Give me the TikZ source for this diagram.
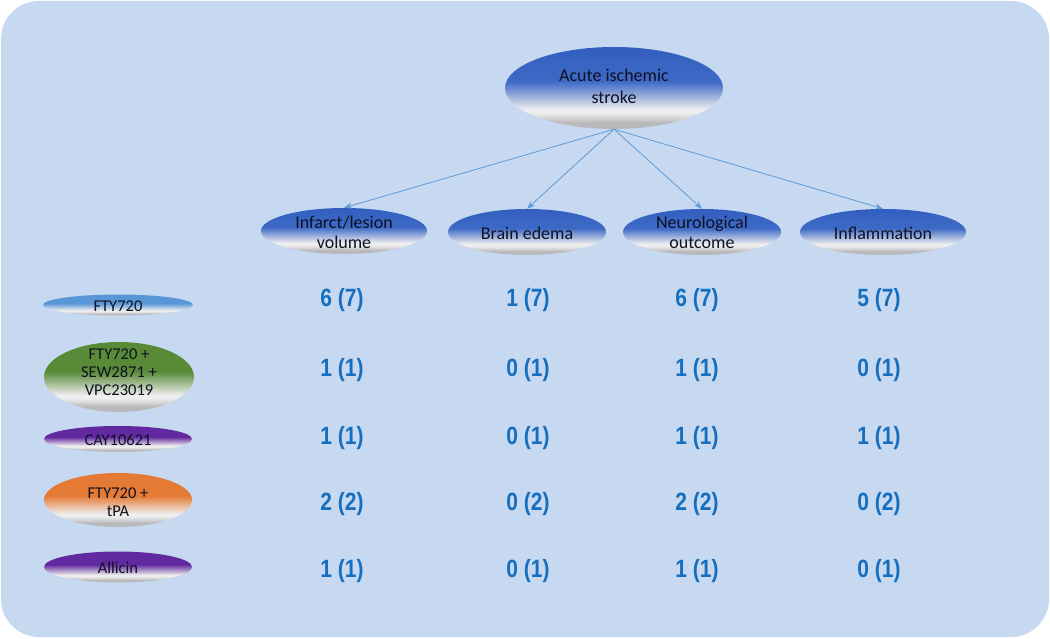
\documentclass[tikz,border=0pt]{standalone}
\usepackage{fontspec}
\setmainfont{Carlito}
\newfontfamily\numfont[FakeStretch=0.84]{Liberation Sans}
\usetikzlibrary{shapes.geometric,arrows.meta}
\definecolor{bgblue}{RGB}{198,217,240}
\definecolor{sgrey}{RGB}{185,185,188}
\definecolor{sgrey2}{RGB}{215,215,217}
\definecolor{swhite}{RGB}{238,238,238}
\definecolor{cblue}{RGB}{62,106,198}
\definecolor{cbluetop}{RGB}{50,94,192}
\definecolor{clblue}{RGB}{88,150,216}
\definecolor{cgreen}{RGB}{88,138,55}
\definecolor{cpurple}{RGB}{98,40,160}
\definecolor{corange}{RGB}{228,122,52}
\definecolor{numblue}{RGB}{22,110,190}
\definecolor{arrblue}{RGB}{95,155,215}
\definecolor{txtc}{RGB}{15,17,35}
\newcommand\mkshade[3]{\pgfdeclareverticalshading{#1}{100bp}{color(0bp)=(sgrey); color(29bp)=(sgrey); color(32bp)=(sgrey2); color(35bp)=(swhite); color(37bp)=(swhite); color(54bp)=(#2); color(75bp)=(#3); color(100bp)=(#3)}}
\mkshade{shblue}{cblue}{cbluetop}
\mkshade{shlblue}{clblue}{clblue}
\mkshade{shgreen}{cgreen}{cgreen}
\mkshade{shpurple}{cpurple}{cpurple}
\mkshade{shorange}{corange}{corange}
\begin{document}
\begin{tikzpicture}[x=1pt,y=-1pt,
  ell/.style={ellipse, inner sep=0pt, draw=none},
  etext/.style={inner sep=0pt, align=center, text=txtc, font=\fontsize{18}{22}\selectfont},
  otext/.style={inner sep=0pt, align=center, text=txtc, font=\fontsize{18}{20}\selectfont},
  ltext/.style={inner sep=0pt, align=center, text=txtc, font=\fontsize{16.5}{18}\selectfont},
  num/.style={inner sep=0pt, text=numblue, font=\numfont\bfseries\fontsize{25}{28}\selectfont},
  conn/.style={draw=arrblue, line width=0.8pt, -{Stealth[length=8pt,width=6pt]}}]
\useasboundingbox (0,0) rectangle (1050,639);
\fill[white] (0,0) rectangle (1050,639);
\fill[bgblue, rounded corners=38pt] (1,1) rectangle (1049,637);
% top
\node[ell, shading=shblue, minimum width=218pt, minimum height=82pt] (stroke) at (614,88) {};
\node[etext] (strokeT) at (614,86) {Acute ischemic\\stroke};
% outcomes
\node[ell, shading=shblue, minimum width=166pt, minimum height=46pt] (inf) at (344,231) {};
\node[otext] (infT) at (344,232) {Infarct/lesion\\volume};
\node[ell, shading=shblue, minimum width=158pt, minimum height=46pt] (ede) at (527,232) {};
\node[otext] (edeT) at (527,233) {Brain edema};
\node[ell, shading=shblue, minimum width=158pt, minimum height=46pt] (neu) at (702,232) {};
\node[otext] (neuT) at (702,232) {Neurological\\outcome};
\node[ell, shading=shblue, minimum width=166pt, minimum height=46pt] (infl) at (883,232) {};
\node[otext] (inflT) at (883,233) {Inflammation};
\foreach \t in {inf,ede,neu,infl} \draw[conn] (stroke.south) -- (\t.north);
% treatments
\node[ell, shading=shlblue, minimum width=150pt, minimum height=21pt] (d1) at (118,305) {};
\node[ltext] (d1T) at (118,306) {FTY720};
\node[ell, shading=shgreen, minimum width=150pt, minimum height=70pt] (d2) at (119,377) {};
\node[ltext] (d2T) at (119,372) {FTY720 +\\SEW2871 +\\VPC23019};
\node[ell, shading=shpurple, minimum width=148pt, minimum height=26pt] (d3) at (118,439) {};
\node[ltext] (d3T) at (118,440) {CAY10621};
\node[ell, shading=shorange, minimum width=148pt, minimum height=54pt] (d4) at (118,500) {};
\node[ltext] (d4T) at (118,502) {FTY720 +\\tPA};
\node[ell, shading=shpurple, minimum width=148pt, minimum height=31pt] (d5) at (118,567) {};
\node[ltext] (d5T) at (118,568) {Allicin};
% numbers
\foreach \y/\a/\b/\c/\d in {300/6 (7)/1 (7)/6 (7)/5 (7), 370/1 (1)/0 (1)/1 (1)/0 (1), 438/1 (1)/0 (1)/1 (1)/1 (1), 504/2 (2)/0 (2)/2 (2)/0 (2), 571/1 (1)/0 (1)/1 (1)/0 (1)}{
  \node[num] (n1-\y) at (342,\y) {\a};
  \node[num] (n2-\y) at (528,\y) {\b};
  \node[num] (n3-\y) at (697,\y) {\c};
  \node[num] (n4-\y) at (879,\y) {\d};
}
\end{tikzpicture}
\end{document}
